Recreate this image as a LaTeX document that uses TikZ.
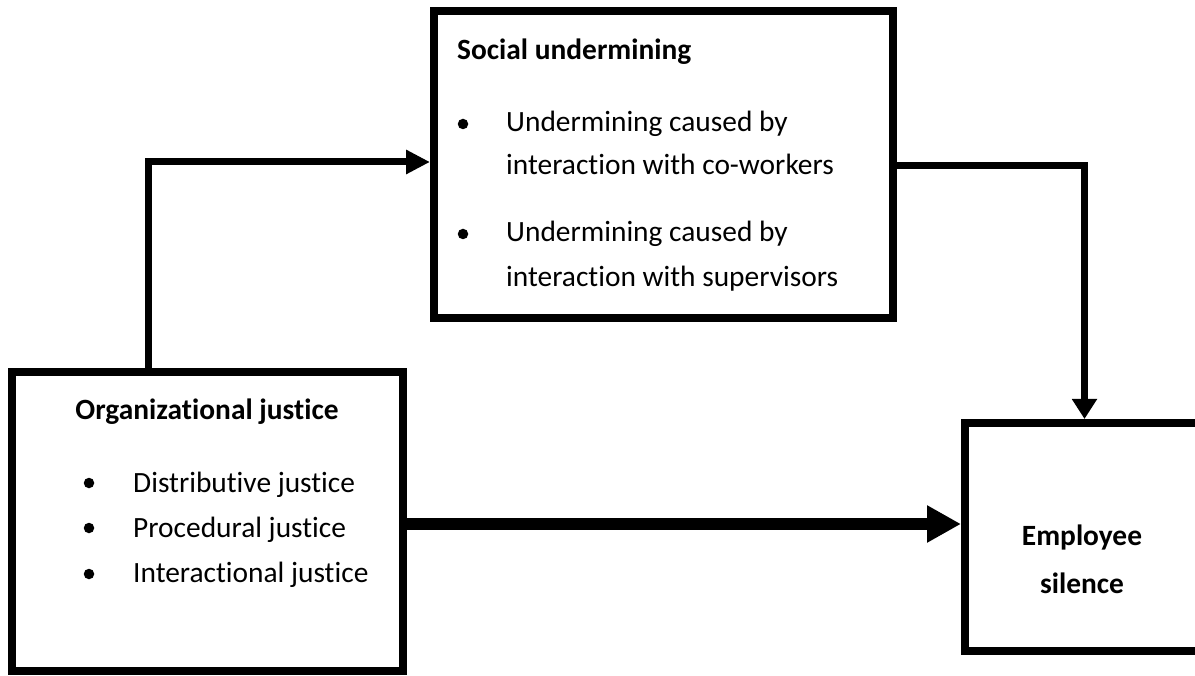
\documentclass[tikz,border=0pt]{standalone}
\usepackage{fontspec}
\setmainfont{Carlito}[Ligatures={NoCommon,NoContextual}]
\usetikzlibrary{arrows.meta}
\tikzset{
  box/.style={draw, line width=8pt, inner sep=0pt, rectangle},
  txt/.style={anchor=base west, inner sep=0pt, font=\fontsize{29.4}{35}\selectfont},
  ttl/.style={txt, font=\fontsize{29.4}{35}\selectfont\bfseries},
  ctr/.style={anchor=base, inner sep=0pt, font=\fontsize{29.4}{35}\selectfont\bfseries},
  bul/.style={circle, fill, inner sep=0pt, minimum size=10.5pt},
  conn/.style={line width=7pt},
}
\begin{document}
\begin{tikzpicture}[x=1pt,y=-1pt]
\clip (0,0) rectangle (1195,676);
% boxes
\node[box, minimum width=459pt, minimum height=307pt] (sbox) at (663.5,164.5) {};
\node[box, minimum width=391pt, minimum height=299pt] (lbox) at (207.5,521.5) {};
\node[box, minimum width=240pt, minimum height=228pt] (ebox) at (1085,537) {};
% social undermining texts
\node[ttl] (st) at (457,60) {Social undermining};
\node[bul] (sb1) at (463,124) {};
\node[txt] (s1a) at (506,132) {Undermining caused by};
\node[txt] (s1b) at (506,175) {interaction with co-workers};
\node[bul] (sb2) at (463,234) {};
\node[txt] (s2a) at (506,242) {Undermining caused by};
\node[txt] (s2b) at (506,287) {interaction with supervisors};
% organizational justice texts
\node[ctr] (lt) at (207,420) {Organizational justice};
\node[bul] (lb1) at (89,483) {};
\node[txt] (l1) at (133,492) {Distributive justice};
\node[bul] (lb2) at (89,528) {};
\node[txt] (l2) at (133,537) {Procedural justice};
\node[bul] (lb3) at (89,574) {};
\node[txt] (l3) at (133,582) {Interactional justice};
% employee silence texts
\node[ctr] (e1) at (1082,545) {Employee};
\node[ctr] (e2) at (1082,593) {silence};
% connectors
\coordinate (a1) at (148,162);
\coordinate (a2) at (1084.5,166);
\coordinate (a3) at (0,524);
\draw[conn, -{Triangle[length=24pt,width=23pt]}] (lbox.north -| a1) |- (sbox.west |- a1);
\draw[conn, -{Triangle[length=20pt,width=24pt]}] (sbox.east |- a2) -| (ebox.north -| a2);
\draw[line width=12pt, -{Triangle[length=34pt,width=35pt]}] (lbox.east |- a3) -- (ebox.west |- a3);
\end{tikzpicture}
\end{document}
